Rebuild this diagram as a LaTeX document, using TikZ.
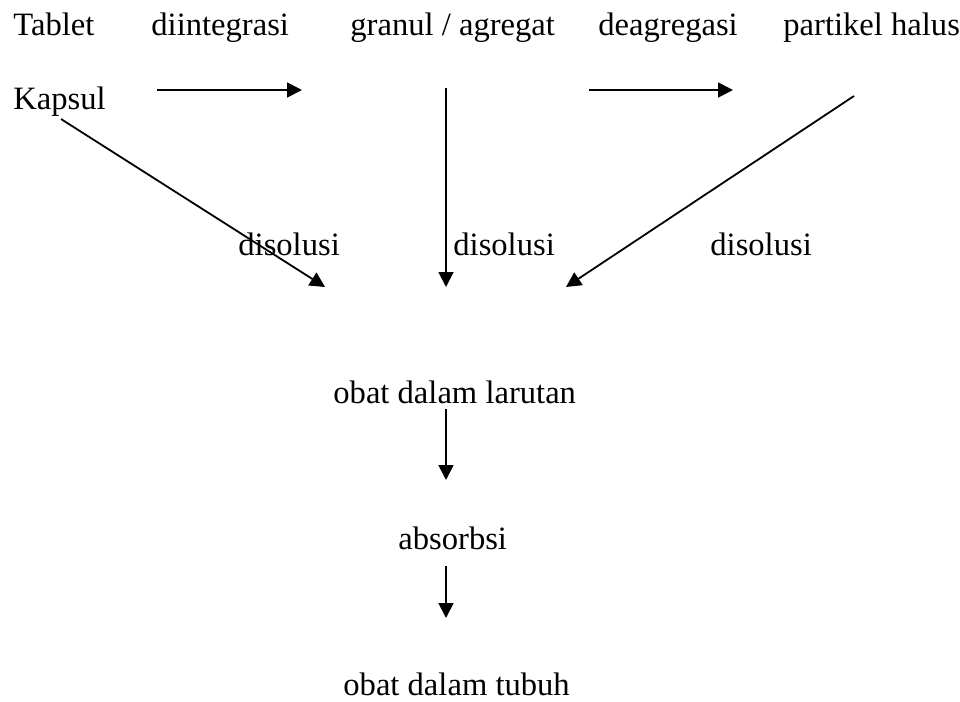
\documentclass[tikz,border=0pt]{standalone}
\usepackage{fontspec}
\setmainfont{Liberation Serif}
\usetikzlibrary{arrows.meta}
\begin{document}
\begin{tikzpicture}[x=0.5pt,y=-0.5pt,
  lbl/.style={anchor=base west,inner sep=0pt,font=\fontsize{16.3}{19}\selectfont},
  flow/.style={line width=0.9pt,-{Triangle[length=7.5pt,width=7.5pt]}}]
\useasboundingbox (0,0) rectangle (960,702);
% top row
\node[lbl] (tablet) at (13,35) {Tablet};
\node[lbl] (diint) at (151,35) {diintegrasi};
\node[lbl] (granul) at (350,35) {granul / agregat};
\node[lbl] (deagr) at (598,35) {deagregasi};
\node[lbl] (partikel) at (783,35) {partikel halus};
\node[lbl] (kapsul) at (13,109) {Kapsul};
% dissolution labels
\node[lbl] (dis1) at (238,255) {disolusi};
\node[lbl] (dis2) at (453,255) {disolusi};
\node[lbl] (dis3) at (710,255) {disolusi};
% lower chain
\node[lbl] (larutan) at (333,403) {obat dalam larutan};
\node[lbl] (absorbsi) at (398,549) {absorbsi};
\node[lbl] (tubuh) at (343,695) {obat dalam tubuh};
% arrow end points
\coordinate (a1s) at (157,90);  \coordinate (a1e) at (302,90);
\coordinate (a2s) at (589,90);  \coordinate (a2e) at (733,90);
\coordinate (vgs) at (446,88);  \coordinate (vge) at (446,287);
\coordinate (kps) at (61,119);  \coordinate (kpe) at (325,287);
\coordinate (phs) at (854,96);  \coordinate (phe) at (566,287);
\coordinate (l1s) at (446,409); \coordinate (l1e) at (446,480);
\coordinate (l2s) at (446,566); \coordinate (l2e) at (446,618);
% connectors
\draw[flow] (a1s) -- (a1e);
\draw[flow] (a2s) -- (a2e);
\draw[flow] (vgs) -- (vge);
\draw[flow] (kps) -- (kpe);
\draw[flow] (phs) -- (phe);
\draw[flow] (l1s) -- (l1e);
\draw[flow] (l2s) -- (l2e);
\end{tikzpicture}
\end{document}
